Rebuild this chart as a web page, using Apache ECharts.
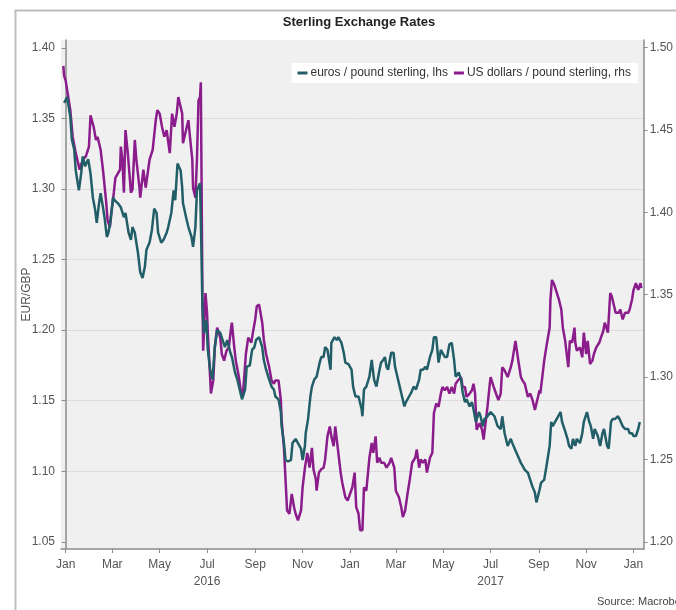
<!DOCTYPE html>
<html>
<head>
<meta charset="utf-8">
<title>Sterling Exchange Rates</title>
<script src="https://cdn.jsdelivr.net/npm/echarts@6/dist/echarts.min.js"></script>
</head>
<body style="margin:0;background:#fff">
<div id="chart" style="width:676px;height:610px;"></div>
<script type="text/javascript">

// x values are days counted from 1 Jan 2016
var tickDays = [0, 60, 121, 182, 244, 305, 366, 425, 486, 547, 609, 670, 731];
var tickLabels = ['Jan', 'Mar', 'May', 'Jul\n2016', 'Sep', 'Nov', 'Jan', 'Mar', 'May', 'Jul\n2017', 'Sep', 'Nov', 'Jan'];
var leftTicks = [1.05, 1.10, 1.15, 1.20, 1.25, 1.30, 1.35, 1.40];
var rightTicks = [1.20, 1.25, 1.30, 1.35, 1.40, 1.45, 1.50];

var eurName = 'euros / pound sterling, lhs';
var usdName = 'US dollars / pound sterling, rhs';

var eurDays = [-2,2,6,8,11,13,17,20,22,25,29,32,35,38,40,43,45,48,50,53,55,58,61,63,67,71,75,77,81,84,86,89,93,96,99,102,104,108,111,114,117,119,123,126,130,132,136,139,141,144,148,150,151,155,158,162,164,167,169,173,175,176,178,181,183,186,189,192,195,199,201,205,208,212,214,218,221,224,227,231,233,237,240,243,245,249,253,255,258,262,265,268,270,274,277,278,281,283,286,290,292,296,299,303,305,308,309,312,315,317,320,323,327,329,332,334,337,341,342,346,349,351,355,358,360,364,368,370,373,377,381,382,384,387,391,394,395,397,400,404,406,409,411,413,415,419,422,424,427,430,433,436,438,442,445,448,451,455,457,460,463,465,469,472,474,477,480,483,485,488,491,494,497,500,502,506,509,511,514,516,520,523,525,528,532,534,537,539,543,547,549,552,556,560,562,565,569,573,575,578,582,586,588,591,595,598,601,604,606,610,612,616,619,623,625,627,630,634,637,639,642,646,648,651,653,656,658,662,665,667,671,674,676,679,681,685,688,691,693,697,699,702,704,707,711,713,717,720,724,726,729,731,734,737,739];
var eurValues = [1.361,1.365,1.351,1.335,1.328,1.313,1.299,1.311,1.323,1.316,1.321,1.311,1.294,1.285,1.276,1.290,1.297,1.287,1.280,1.266,1.269,1.278,1.294,1.292,1.290,1.287,1.280,1.283,1.269,1.264,1.273,1.269,1.255,1.241,1.237,1.245,1.257,1.262,1.271,1.286,1.283,1.269,1.262,1.264,1.269,1.273,1.283,1.299,1.292,1.318,1.313,1.301,1.290,1.280,1.273,1.266,1.259,1.273,1.299,1.304,1.250,1.217,1.198,1.207,1.186,1.172,1.165,1.188,1.200,1.198,1.198,1.188,1.193,1.184,1.181,1.170,1.165,1.158,1.151,1.158,1.174,1.175,1.186,1.188,1.193,1.195,1.188,1.179,1.172,1.165,1.160,1.158,1.153,1.151,1.142,1.132,1.120,1.108,1.107,1.108,1.120,1.123,1.120,1.116,1.108,1.118,1.127,1.137,1.153,1.160,1.165,1.167,1.177,1.181,1.181,1.188,1.186,1.172,1.191,1.195,1.193,1.195,1.191,1.184,1.177,1.176,1.172,1.160,1.153,1.153,1.144,1.139,1.158,1.160,1.167,1.179,1.174,1.165,1.160,1.172,1.177,1.179,1.181,1.174,1.172,1.184,1.184,1.174,1.167,1.160,1.153,1.146,1.149,1.153,1.156,1.160,1.158,1.165,1.172,1.172,1.174,1.172,1.181,1.186,1.195,1.195,1.177,1.186,1.186,1.181,1.181,1.190,1.191,1.179,1.167,1.170,1.165,1.156,1.149,1.151,1.146,1.149,1.144,1.135,1.142,1.139,1.132,1.137,1.139,1.142,1.142,1.139,1.132,1.130,1.139,1.127,1.118,1.123,1.120,1.116,1.111,1.106,1.104,1.101,1.099,1.094,1.089,1.085,1.078,1.087,1.092,1.094,1.104,1.118,1.135,1.132,1.135,1.139,1.142,1.135,1.130,1.123,1.118,1.116,1.123,1.118,1.123,1.120,1.127,1.135,1.142,1.135,1.132,1.123,1.130,1.125,1.118,1.127,1.130,1.118,1.116,1.135,1.137,1.137,1.139,1.137,1.132,1.130,1.130,1.127,1.127,1.125,1.125,1.130,1.135];

var usdDays = [-3,-2,0,6,9,13,18,22,26,30,32,36,39,41,45,48,52,54,57,58,62,64,70,71,73,75,77,80,84,86,89,91,95,96,100,103,108,112,116,118,121,124,127,130,134,137,140,143,145,148,150,151,155,158,160,163,164,167,169,171,173,174,176,177,180,182,183,187,190,192,195,199,201,204,207,210,213,214,217,219,223,226,228,232,235,239,241,244,246,249,253,255,258,262,265,268,270,274,277,278,281,283,285,288,291,294,296,299,303,305,308,311,314,317,319,322,323,326,329,332,334,337,340,342,345,347,350,354,356,360,363,366,369,372,374,377,379,382,384,387,391,394,396,399,401,404,406,410,413,417,419,423,425,429,432,434,437,440,443,446,450,452,455,457,460,463,465,469,472,474,477,480,483,485,488,491,494,497,500,502,505,509,511,514,516,520,523,525,527,529,533,536,538,541,543,546,547,551,553,557,560,562,565,569,573,575,579,583,586,588,591,595,598,601,604,606,610,611,614,616,619,623,624,626,629,631,635,638,640,643,647,649,652,655,656,658,662,665,667,670,672,675,678,680,683,687,689,692,694,698,701,703,706,708,712,714,717,720,724,726,729,731,734,737,740,741];
var usdValues = [1.489,1.483,1.480,1.462,1.446,1.436,1.426,1.432,1.434,1.440,1.459,1.452,1.444,1.446,1.438,1.426,1.407,1.395,1.391,1.397,1.412,1.421,1.426,1.440,1.432,1.412,1.450,1.436,1.412,1.414,1.444,1.432,1.415,1.409,1.426,1.415,1.432,1.438,1.456,1.462,1.460,1.452,1.446,1.450,1.436,1.460,1.452,1.460,1.470,1.464,1.460,1.442,1.450,1.456,1.446,1.432,1.415,1.409,1.432,1.468,1.470,1.479,1.351,1.316,1.351,1.339,1.327,1.290,1.298,1.318,1.330,1.324,1.314,1.310,1.316,1.318,1.330,1.333,1.318,1.310,1.300,1.290,1.288,1.314,1.324,1.321,1.327,1.335,1.343,1.344,1.333,1.323,1.314,1.306,1.298,1.296,1.298,1.298,1.286,1.274,1.257,1.238,1.219,1.217,1.229,1.221,1.217,1.213,1.219,1.233,1.245,1.254,1.245,1.257,1.244,1.238,1.231,1.242,1.244,1.245,1.250,1.264,1.270,1.264,1.258,1.270,1.258,1.242,1.236,1.227,1.225,1.229,1.233,1.242,1.221,1.217,1.207,1.207,1.233,1.231,1.251,1.260,1.254,1.264,1.248,1.251,1.248,1.248,1.245,1.248,1.251,1.245,1.231,1.227,1.221,1.215,1.219,1.229,1.238,1.248,1.251,1.256,1.245,1.250,1.248,1.250,1.242,1.251,1.254,1.278,1.284,1.282,1.290,1.294,1.292,1.294,1.290,1.294,1.290,1.296,1.298,1.300,1.294,1.294,1.288,1.290,1.292,1.296,1.290,1.268,1.272,1.268,1.262,1.274,1.282,1.296,1.300,1.294,1.294,1.286,1.290,1.306,1.304,1.300,1.306,1.310,1.322,1.309,1.300,1.298,1.296,1.288,1.290,1.286,1.280,1.284,1.292,1.290,1.302,1.310,1.319,1.330,1.347,1.359,1.356,1.353,1.347,1.341,1.330,1.322,1.306,1.322,1.321,1.330,1.321,1.316,1.318,1.312,1.327,1.314,1.322,1.308,1.310,1.314,1.318,1.321,1.324,1.328,1.333,1.327,1.351,1.349,1.343,1.339,1.339,1.341,1.335,1.339,1.339,1.341,1.347,1.353,1.357,1.353,1.357,1.354];

function pairs(xs, ys) {
    var out = [];
    for (var i = 0; i < xs.length; i++) {
        out.push([xs[i], ys[i]]);
    }
    return out;
}

var font = 'Arial, "Liberation Sans", sans-serif';
var axisGrey = '#8c8c8c';
var labelGrey = '#555';

var myChart = echarts.init(document.getElementById('chart'), null, {renderer: 'canvas'});

var option = {
    animation: false,
    backgroundColor: '#fff',
    title: {
        text: 'Sterling Exchange Rates',
        left: 354,
        top: 11,
        textAlign: 'center',
        textStyle: {fontFamily: font, fontSize: 13, fontWeight: 'bold', color: '#222'}
    },
    legend: {
        data: [eurName, usdName],
        right: 38,
        top: 63,
        backgroundColor: '#fff',
        padding: [4, 7, 4, 6],
        itemGap: 6,
        itemWidth: 10,
        itemHeight: 3,
        icon: 'rect',
        textStyle: {fontFamily: font, fontSize: 12, color: '#333', padding: [0, 0, 0, -2]}
    },
    graphic: [
        {
            type: 'rect',
            left: 13, top: 8, z: -10,
            shape: {width: 700, height: 700},
            style: {fill: 'none', stroke: '#bdbdbd', lineWidth: 2}
        },
        {
            type: 'text',
            left: 597, top: 596,
            style: {text: 'Source: Macrobond', font: '11px ' + font, fill: '#444'}
        }
    ],
    grid: {
        left: 61, right: 29, top: 40, bottom: 61,
        show: true,
        backgroundColor: '#f0f0f0',
        borderWidth: 0
    },
    xAxis: {
        type: 'value',
        min: -6,
        max: 744,
        axisLine: {show: true, onZero: false, lineStyle: {color: axisGrey, width: 1.5}},
        axisTick: {show: true, length: 4, customValues: tickDays, lineStyle: {color: axisGrey}},
        splitLine: {show: false},
        axisLabel: {
            customValues: tickDays,
            margin: 7,
            lineHeight: 17,
            fontFamily: font, fontSize: 12, color: labelGrey,
            formatter: function (v) {
                var i = tickDays.indexOf(Math.round(v));
                return i >= 0 ? tickLabels[i] : '';
            }
        }
    },
    yAxis: [
        {
            type: 'value',
            position: 'left',
            min: 1.045,
            max: 1.4055,
            splitNumber: 7,
            name: 'EUR/GBP',
            nameLocation: 'middle',
            nameGap: 28,
            nameMoveOverlap: false,
            nameTextStyle: {fontFamily: font, fontSize: 12, color: labelGrey},
            axisLine: {show: true, lineStyle: {color: axisGrey, width: 1.5}},
            axisTick: {show: true, length: 4, customValues: leftTicks, lineStyle: {color: axisGrey}},
            splitLine: {show: true, showMinLine: false, showMaxLine: false, lineStyle: {color: '#dcdcdc', width: 1}},
            axisLabel: {
                customValues: leftTicks,
                margin: 6,
                fontFamily: font, fontSize: 12, color: labelGrey,
                formatter: function (v) { return v.toFixed(2); }
            }
        },
        {
            type: 'value',
            position: 'right',
            min: 1.1956,
            max: 1.5047,
            splitNumber: 6,
            axisLine: {show: true, lineStyle: {color: axisGrey, width: 1.5}},
            axisTick: {show: true, length: 4, customValues: rightTicks, lineStyle: {color: axisGrey}},
            splitLine: {show: false},
            axisLabel: {
                customValues: rightTicks,
                margin: 6,
                fontFamily: font, fontSize: 12, color: labelGrey,
                formatter: function (v) { return v.toFixed(2); }
            }
        }
    ],
    series: [
        {
            name: usdName,
            type: 'line',
            yAxisIndex: 1,
            data: pairs(usdDays, usdValues),
            showSymbol: false,
            color: '#8b1c8c',
            lineStyle: {width: 2.5, color: '#8b1c8c'}
        },
        {
            name: eurName,
            type: 'line',
            yAxisIndex: 0,
            data: pairs(eurDays, eurValues),
            showSymbol: false,
            color: '#225e68',
            lineStyle: {width: 2.5, color: '#225e68'}
        }
    ]
};

if (option && typeof option === "object") {
    myChart.setOption(option, true);
}
</script>
</body>
</html>
